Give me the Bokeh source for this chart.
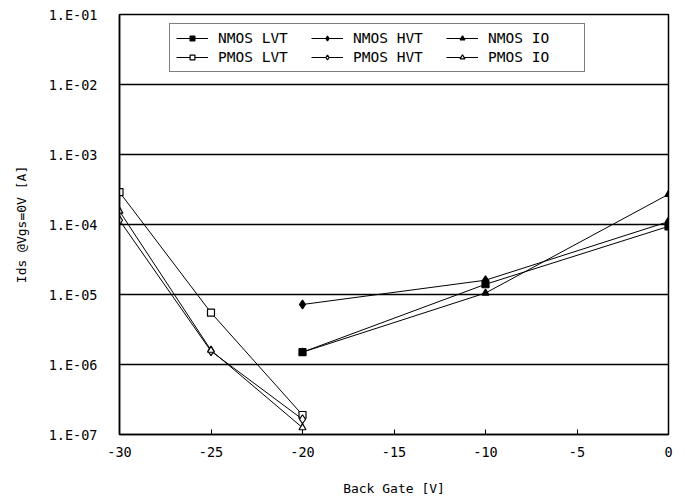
from bokeh.plotting import figure
from bokeh.models import Legend, LegendItem, CustomJSTickFormatter, FixedTicker, Range1d
from bokeh.embed import file_html
from bokeh.resources import INLINE

# Data (Back gate voltage [V] vs Ids @Vgs=0V [A])
nmos_x = [-20, -10, 0]
nmos_lvt = [1.5e-6, 1.4e-5, 9.4e-5]
nmos_hvt = [7.2e-6, 1.6e-5, 1.1e-4]
nmos_io = [1.5e-6, 1.05e-5, 2.7e-4]

pmos_x = [-30, -25, -20]
pmos_lvt = [2.9e-4, 5.5e-6, 1.9e-7]
pmos_hvt = [1.15e-4, 1.55e-6, 1.65e-7]
pmos_io = [1.55e-4, 1.6e-6, 1.25e-7]

y_ticks = [1e-7, 1e-6, 1e-5, 1e-4, 1e-3, 1e-2, 1e-1]
x_ticks = [-30, -25, -20, -15, -10, -5, 0]

FONT = "DejaVu Sans Mono"

p = figure(width=686, height=504, y_axis_type="log",
           x_range=Range1d(-30, 0), y_range=Range1d(1e-7, 1e-1),
           output_backend="svg", toolbar_location=None,
           min_border_left=119, min_border_right=18,
           min_border_top=14, min_border_bottom=70)
p.background_fill_color = "white"
p.border_fill_color = "white"
p.outline_line_color = "black"
p.outline_line_width = 1.5

p.xgrid.grid_line_color = None
p.ygrid.grid_line_color = "black"
p.ygrid.grid_line_width = 1.5
p.ygrid.ticker = FixedTicker(ticks=y_ticks)

p.yaxis.ticker = FixedTicker(ticks=y_ticks)
p.yaxis.formatter = CustomJSTickFormatter(code="""
    const e = Math.round(Math.log10(tick));
    const s = String(Math.abs(e)).padStart(2, '0');
    return '1.E' + (e < 0 ? '-' : '+') + s;
""")
p.xaxis.ticker = FixedTicker(ticks=x_ticks)
p.xaxis.formatter = CustomJSTickFormatter(code="return String(tick);")

for ax in (p.xaxis[0], p.yaxis[0]):
    ax.axis_line_color = "black"
    ax.axis_line_width = 1.5
    ax.major_label_text_font = FONT
    ax.major_label_text_font_size = "13.5px"
    ax.major_label_text_color = "black"
    ax.axis_label_text_font = FONT
    ax.axis_label_text_font_size = "13px"
    ax.axis_label_text_font_style = "normal"
    ax.axis_label_text_color = "black"
    ax.minor_tick_line_color = None
    ax.major_tick_line_color = "black"

p.xaxis.major_tick_in = 5
p.xaxis.major_tick_out = 0
p.xaxis.major_label_standoff = 12
p.xaxis.axis_label = "Back Gate [V]"
p.xaxis.axis_label_standoff = 21

p.yaxis.major_tick_in = 0
p.yaxis.major_tick_out = 0
p.yaxis.major_label_standoff = 22
p.yaxis.axis_label = "Ids @Vgs=0V [A]"
p.yaxis.axis_label_standoff = 17

series = [
    ("NMOS LVT", nmos_x, nmos_lvt, "square", "black"),
    ("NMOS HVT", nmos_x, nmos_hvt, "diamond", "black"),
    ("NMOS IO", nmos_x, nmos_io, "triangle", "black"),
    ("PMOS LVT", pmos_x, pmos_lvt, "square", "white"),
    ("PMOS HVT", pmos_x, pmos_hvt, "diamond", "white"),
    ("PMOS IO", pmos_x, pmos_io, "triangle", "white"),
]

items = []
for name, xs, ys, marker, fill in series:
    ln = p.line(xs, ys, line_color="black", line_width=1)
    sz = 9 if marker == "diamond" else 7
    sc = p.scatter(xs, ys, marker=marker, size=sz, fill_color=fill,
                   line_color="black", line_width=1.2)
    items.append(LegendItem(label=name, renderers=[ln, sc]))

legend = Legend(items=items, location=(50, 362), orientation="horizontal", ncols=3,
                border_line_color="black", border_line_width=1.5,
                background_fill_color="white", background_fill_alpha=1,
                label_text_font=FONT, label_text_font_size="14.5px",
                label_text_color="black", label_width=90,
                glyph_width=32, glyph_height=12, spacing=3,
                label_standoff=10, padding=6, margin=0)
p.add_layout(legend, "center")

open("out.html", "w").write(file_html(p, INLINE))
